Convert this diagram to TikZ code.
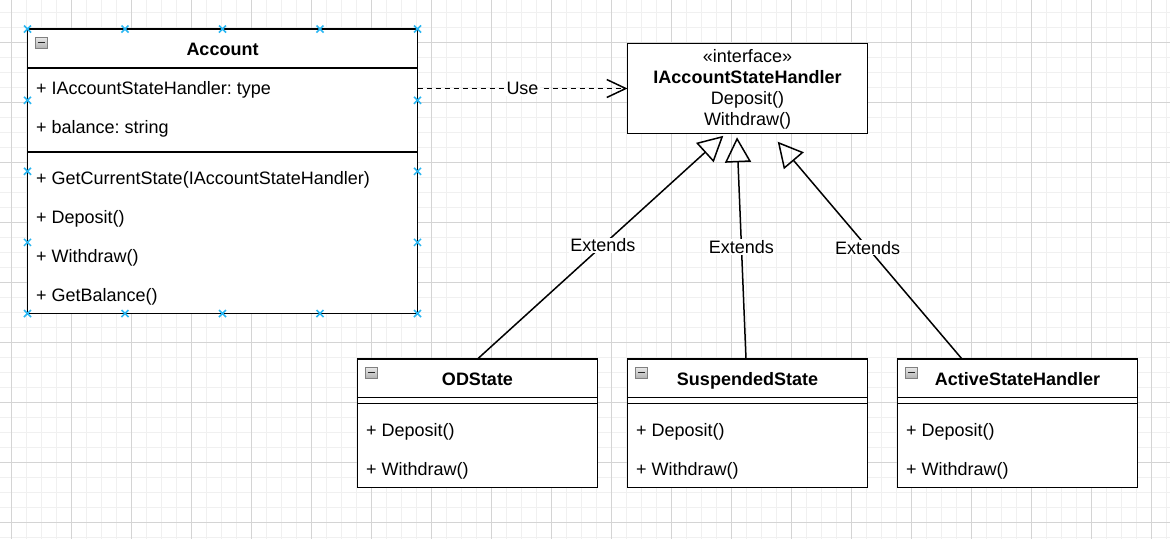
\documentclass[tikz,border=0pt]{standalone}
\usepackage{fontspec}
\setmainfont{Liberation Sans}
\usetikzlibrary{arrows.meta}
\definecolor{gridmin}{HTML}{F0F0F0}
\definecolor{gridmaj}{HTML}{D4D4D4}
\definecolor{selblue}{HTML}{29B6F2}
\frenchspacing
\newcommand{\fsz}{\fontsize{18}{21}\selectfont}
\newcommand{\umlicon}[2]{%
  \shade[top color=white!92!black, bottom color=white!70!black] (#1,#2) rectangle ++(12.5,11);
  \draw[line width=0.8pt, black!50] (#1,#2) rectangle ++(12.5,11);
  \draw[line width=1.6pt, black!85] ({#1+2.5},{#2+5.5}) -- ++(7.5,0);}
\newcommand{\selmark}[2]{%
  \draw[selblue, line width=1.5pt] ({#1-3.5},{#2-3.5}) -- ({#1+3.5},{#2+3.5}) ({#1-3.5},{#2+3.5}) -- ({#1+3.5},{#2-3.5});}
\begin{document}
\begin{tikzpicture}[x=1pt,y=-1pt,
  cls/.style={draw, line width=1.5pt, fill=white, inner sep=0pt, outer sep=0pt, anchor=north west},
  mem/.style={font=\fsz, anchor=base west, inner sep=0pt},
  ttl/.style={font=\fsz\bfseries, anchor=base, inner sep=0pt},
  iftxt/.style={font=\fsz, anchor=base, inner sep=0pt},
  sepline/.style={line width=1.5pt},
  elab/.style={font=\fsz, fill=white, inner sep=1pt},
  ext/.style={line width=1.5pt, -{Triangle[open, length=25pt, width=26pt]}},
  usearr/.style={line width=1.5pt, dash pattern=on 5pt off 4pt, -{Straight Barb[length=19pt, width=18pt]}}
]
% background and grid
\fill[white] (0,0) rectangle (1170,539);
\useasboundingbox (0,0) rectangle (1170,539);
\foreach \x in {11.5,26.5,...,1170} \draw[gridmin, line width=1pt] (\x,0) -- (\x,539);
\foreach \y in {12.3,27.3,...,539} \draw[gridmin, line width=1pt] (0,\y) -- (1170,\y);
\foreach \x in {11.5,71.5,...,1170} \draw[gridmaj, line width=1pt] (\x,0) -- (\x,539);
\foreach \y in {42.3,102.3,...,539} \draw[gridmaj, line width=1pt] (0,\y) -- (1170,\y);

% Account class
\node[cls, minimum width=390pt, minimum height=284.5pt] (account) at (27.5,29) {};
\draw[sepline] (27.5,68) -- (417.5,68);
\draw[sepline] (27.5,152) -- (417.5,152);
\umlicon{35}{37}
\node[ttl] (acctitle) at (222.5,55) {Account};
\node[mem] (a1) at (36,94.3) {+ IAccountStateHandler: type};
\node[mem] (a2) at (36,133.3) {+ balance: string};
\node[mem] (m1) at (36,184) {+ GetCurrentState(IAccountStateHandler)};
\node[mem] (m2) at (36,223) {+ Deposit()};
\node[mem] (m3) at (36,262) {+ Withdraw()};
\node[mem] (m4) at (36,301) {+ GetBalance()};

% Interface
\node[cls, minimum width=240pt, minimum height=90pt] (iface) at (627.5,43.5) {};
\node[iftxt] (ifst) at (747.5,62) {«interface»};
\node[ttl] (ifname) at (747.5,83.5) {IAccountStateHandler};
\node[iftxt] (ifdep) at (747.5,104.5) {Deposit()};
\node[iftxt] (ifwd) at (747.5,125.5) {Withdraw()};

% Child classes
\foreach \nm/\lx/\title in {od/357.5/ODState, susp/627.5/SuspendedState, active/897.5/ActiveStateHandler}{
  \node[cls, minimum width=240pt, minimum height=128.5pt] (\nm) at (\lx,359) {};
  \draw[sepline] (\lx,397.5) -- ++(240,0);
  \draw[sepline] (\lx,403.5) -- ++(240,0);
  \umlicon{\lx+7.5}{367}
  \node[ttl] (\nm-title) at (\lx+120,385) {\title};
  \node[mem] (\nm-dep) at (\lx+8.5,436) {+ Deposit()};
  \node[mem] (\nm-wd) at (\lx+8.5,475) {+ Withdraw()};
}

% connectors
\draw[usearr] (account.east |- iface.west) -- node[elab] {Use} (iface.west);
\coordinate (t1) at (723.3,135.8);
\coordinate (t2) at (737,137.3);
\coordinate (t3) at (777.7,141.7);
\draw[ext] (od.north) -- node[elab, pos=0.51] {Extends} (t1);
\draw[ext] ([xshift=-1.5pt]susp.north) -- node[elab, pos=0.505] {Extends} (t2);
\draw[ext] ([xshift=-55.5pt]active.north) -- node[elab, pos=0.512] {Extends} (t3);

% selection markers
\foreach \x in {27.5,125,222.5,320,417.5}{\selmark{\x}{29}\selmark{\x}{313.5}}
\foreach \y in {100.3,171.3,242.4}{\selmark{27.5}{\y}\selmark{417.5}{\y}}
\end{tikzpicture}
\end{document}
